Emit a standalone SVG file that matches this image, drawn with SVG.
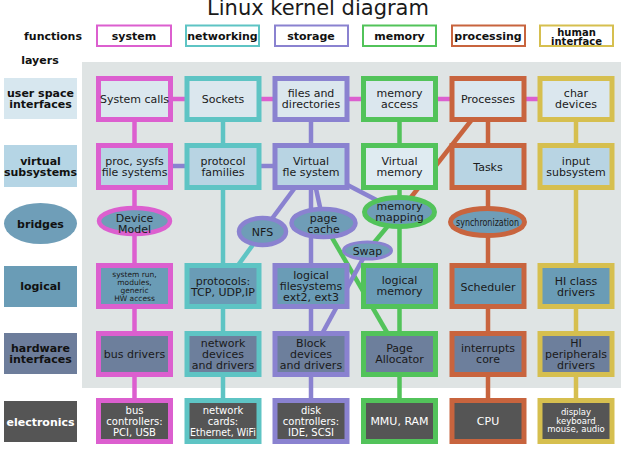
<svg xmlns="http://www.w3.org/2000/svg" width="623" height="450" viewBox="0 0 623 450">
<style>
text{font-family:"DejaVu Sans","Liberation Sans",sans-serif;text-anchor:middle;fill:#1a1a1a}
.t{font-size:11px}
.b{font-weight:bold;font-size:11px;fill:#111}
.w{fill:#fff}
.hdr{fill:#fff;stroke-width:2}
.n{stroke-width:5}
.e{stroke-width:4.5}
.c{fill:none;stroke-width:4.5;stroke-linecap:butt}
.r1{fill:#dbe7ee}.r2{fill:#b8d4e3}.r3{fill:#6f9db7}.r4{fill:#6a9cb6}.r5{fill:#6d7f9c}.r6{fill:#555555}
.sys{stroke:#dc5fcf}.net{stroke:#5ec4c4}.sto{stroke:#8a82d0}.mem{stroke:#52c35a}.pro{stroke:#c8643e}.hi{stroke:#d6bf4f}
</style>
<rect x="0" y="0" width="623" height="450" fill="#fff"/>
<text x="318" y="15" style="font-size:21px">Linux kernel diagram</text>
<rect x="82" y="62" width="539" height="326" fill="#dfe4e4"/>

<g id="legend">
<text class="b" x="53" y="40">functions</text>
<text class="b" x="40" y="64">layers</text>
<rect class="hdr sys" x="97" y="25.5" width="74" height="20.5"/><text class="b" x="134" y="39.5">system</text>
<rect class="hdr net" x="186" y="25.5" width="73" height="20.5"/><text class="b" x="222.5" y="39.5">networking</text>
<rect class="hdr sto" x="275" y="25.5" width="73" height="20.5"/><text class="b" x="311" y="39.5">storage</text>
<rect class="hdr mem" x="363" y="25.5" width="73" height="20.5"/><text class="b" x="399.5" y="39.5">memory</text>
<rect class="hdr pro" x="452" y="25.5" width="73" height="20.5"/><text class="b" x="488" y="39.5">processing</text>
<rect class="hdr hi" x="540" y="25.5" width="73" height="20.5"/><text class="b" x="576.5" y="35.5" style="font-size:10px">human</text><text class="b" x="576.5" y="44.5" style="font-size:10px">interface</text>
</g>

<g id="layers">
<rect x="4" y="78" width="73" height="41" fill="#d7e7ef"/><text class="b" x="40.5" y="97">user space</text><text class="b" x="40.5" y="108">interfaces</text>
<rect x="4" y="145" width="73" height="42" fill="#b5d5e5"/><text class="b" x="40.5" y="165">virtual</text><text class="b" x="40.5" y="176">subsystems</text>
<ellipse cx="40.5" cy="223.5" rx="36.5" ry="20.5" fill="#6f9eb8"/><text class="b" x="40.5" y="227.5">bridges</text>
<rect x="4" y="266" width="73" height="41" fill="#6a9cb6"/><text class="b" x="40.5" y="290">logical</text>
<rect x="4" y="333" width="73" height="41" fill="#6d7d9b"/><text class="b" x="40.5" y="352">hardware</text><text class="b" x="40.5" y="363">interfaces</text>
<rect x="4" y="401" width="73" height="41" fill="#555555"/><text class="b w" x="40.5" y="426">electronics</text>
</g>

<g id="connectors">
<line class="c sys" x1="134.5" y1="120" x2="134.5" y2="402"/>
<line class="c net" x1="223" y1="120" x2="223" y2="402"/>
<line class="c sto" x1="311" y1="120" x2="311" y2="402"/>
<line class="c mem" x1="399.5" y1="120" x2="399.5" y2="402"/>
<line class="c pro" x1="488" y1="120" x2="488" y2="402"/>
<line class="c hi" x1="576" y1="120" x2="576" y2="402"/>
<line class="c sys" x1="134.5" y1="99" x2="576" y2="99"/>
<line class="c sto" x1="134.5" y1="166" x2="311" y2="166"/>
<line class="c sto" x1="311" y1="166" x2="262.5" y2="231.5"/>
<line class="c net" x1="262.5" y1="231.5" x2="223" y2="286"/>
<line class="c sto" x1="311" y1="166" x2="399.5" y2="212"/>
<line class="c sto" x1="311" y1="166" x2="323.5" y2="223"/>
<line class="c mem" x1="323.5" y1="223" x2="399.5" y2="354"/>
<line class="c mem" x1="399.5" y1="212" x2="367.5" y2="250.5"/>
<line class="c sto" x1="367.5" y1="250.5" x2="311" y2="354"/>
<line class="c pro" x1="488" y1="99" x2="399.5" y2="212"/>
</g>

<g id="system-calls"><rect class="n sys r1" x="98.5" y="78.5" width="72" height="41"/><text class="t" x="134.5" y="103">System calls</text></g>
<g id="sockets"><rect class="n net r1" x="187" y="78.5" width="72" height="41"/><text class="t" x="223" y="103">Sockets</text></g>
<g id="files-directories"><rect class="n sto r1" x="275" y="78.5" width="72" height="41"/><text class="t" x="311" y="97">files and</text><text class="t" x="311" y="108">directories</text></g>
<g id="memory-access"><rect class="n mem r1" x="363.5" y="78.5" width="72" height="41"/><text class="t" x="399.5" y="97">memory</text><text class="t" x="399.5" y="108">access</text></g>
<g id="processes"><rect class="n pro r1" x="452" y="78.5" width="72" height="41"/><text class="t" x="488" y="103">Processes</text></g>
<g id="char-devices"><rect class="n hi r1" x="540" y="78.5" width="72" height="41"/><text class="t" x="576" y="97">char</text><text class="t" x="576" y="108">devices</text></g>

<g id="proc-sysfs"><rect class="n sys r2" x="98.5" y="145.5" width="72" height="42"/><text class="t" x="134.5" y="165">proc, sysfs</text><text class="t" x="134.5" y="176">file systems</text></g>
<g id="protocol-families"><rect class="n net r2" x="187" y="145.5" width="72" height="42"/><text class="t" x="223" y="165">protocol</text><text class="t" x="223" y="176">families</text></g>
<g id="virtual-fs"><rect class="n sto r2" x="275" y="145.5" width="72" height="42"/><text class="t" x="311" y="165">Virtual</text><text class="t" x="311" y="176">fle system</text></g>
<g id="virtual-memory"><rect class="n mem" fill="#dfebf1" x="363.5" y="145.5" width="72" height="42"/><text class="t" x="399.5" y="165">Virtual</text><text class="t" x="399.5" y="176">memory</text></g>
<g id="tasks"><rect class="n pro r2" x="452" y="145.5" width="72" height="42"/><text class="t" x="488" y="171">Tasks</text></g>
<g id="input-subsystem"><rect class="n hi r2" x="540" y="145.5" width="72" height="42"/><text class="t" x="576" y="165">input</text><text class="t" x="576" y="176">subsystem</text></g>

<g id="device-model"><ellipse class="e sys r3" cx="134.5" cy="221" rx="35.5" ry="13"/><text class="t" x="134.5" y="222">Device</text><text class="t" x="134.5" y="233">Model</text></g>
<g id="nfs"><ellipse class="e sto r3" cx="262.5" cy="231.5" rx="23.5" ry="13.5"/><text class="t" x="262.5" y="236">NFS</text></g>
<g id="page-cache"><ellipse class="e sto r3" cx="323.5" cy="223" rx="32" ry="14"/><text class="t" x="323.5" y="222">page</text><text class="t" x="323.5" y="233">cache</text></g>
<g id="memory-mapping"><ellipse class="n mem r3" cx="399.5" cy="212" rx="35" ry="14.5"/><text class="t" x="399.5" y="210">memory</text><text class="t" x="399.5" y="221">mapping</text></g>
<g id="swap"><ellipse cx="367.5" cy="250.5" rx="24" ry="8.5" class="r3" stroke="#8a82d0" stroke-width="3"/><text class="t" x="367.5" y="254.5">Swap</text></g>
<g id="synchronization"><ellipse class="n pro r3" cx="487.5" cy="222" rx="37" ry="13.5"/><text class="t" x="487.5" y="226" style="font-size:10px" textLength="63" lengthAdjust="spacingAndGlyphs">synchronization</text></g>

<g id="system-run"><rect class="n sys r4" x="98.5" y="265.5" width="72" height="41"/><text x="134.5" y="277" style="font-size:7.5px">system run,</text><text x="134.5" y="285" style="font-size:7.5px">modules,</text><text x="134.5" y="293" style="font-size:7.5px">generic</text><text x="134.5" y="301" style="font-size:7.5px">HW access</text></g>
<g id="protocols"><rect class="n net r4" x="187" y="265.5" width="72" height="41"/><text class="t" x="223" y="285">protocols:</text><text class="t" x="223" y="296">TCP, UDP,IP</text></g>
<g id="logical-filesystems"><rect class="n sto r4" x="275" y="265.5" width="72" height="41"/><text class="t" x="311" y="279">logical</text><text class="t" x="311" y="290">filesystems</text><text class="t" x="311" y="301">ext2, ext3</text></g>
<g id="logical-memory"><rect class="n mem r4" x="363.5" y="265.5" width="72" height="41"/><text class="t" x="399.5" y="284">logical</text><text class="t" x="399.5" y="295">memory</text></g>
<g id="scheduler"><rect class="n pro r4" x="452" y="265.5" width="72" height="41"/><text class="t" x="488" y="291">Scheduler</text></g>
<g id="hi-class-drivers"><rect class="n hi r4" x="540" y="265.5" width="72" height="41"/><text class="t" x="576" y="285">HI class</text><text class="t" x="576" y="296">drivers</text></g>

<g id="bus-drivers"><rect class="n sys r5" x="98.5" y="333.5" width="72" height="41"/><text class="t" x="134.5" y="358">bus drivers</text></g>
<g id="network-devices"><rect class="n net r5" x="187" y="333.5" width="72" height="41"/><text class="t" x="223" y="347">network</text><text class="t" x="223" y="358">devices</text><text class="t" x="223" y="369">and drivers</text></g>
<g id="block-devices"><rect class="n sto r5" x="275" y="333.5" width="72" height="41"/><text class="t" x="311" y="347">Block</text><text class="t" x="311" y="358">devices</text><text class="t" x="311" y="369">and drivers</text></g>
<g id="page-allocator"><rect class="n mem r5" x="363.5" y="333.5" width="72" height="41"/><text class="t" x="399.5" y="352">Page</text><text class="t" x="399.5" y="363">Allocator</text></g>
<g id="interrupts-core"><rect class="n pro r5" x="452" y="333.5" width="72" height="41"/><text class="t" x="488" y="352">interrupts</text><text class="t" x="488" y="363">core</text></g>
<g id="hi-peripherals"><rect class="n hi r5" x="540" y="333.5" width="72" height="41"/><text class="t" x="576" y="347">HI</text><text class="t" x="576" y="358">peripherals</text><text class="t" x="576" y="369">drivers</text></g>

<g id="bus-controllers"><rect class="n sys r6" x="98.5" y="400.5" width="72" height="41"/><text class="w" x="134.5" y="414" style="font-size:10px">bus</text><text class="w" x="134.5" y="425" style="font-size:10px">controllers:</text><text class="w" x="134.5" y="436" style="font-size:10px">PCI, USB</text></g>
<g id="network-cards"><rect class="n net r6" x="187" y="400.5" width="72" height="41"/><text class="w" x="223" y="414" style="font-size:10px">network</text><text class="w" x="223" y="425" style="font-size:10px">cards:</text><text class="w" x="223" y="436" style="font-size:10px" textLength="66" lengthAdjust="spacingAndGlyphs">Ethernet, WiFi</text></g>
<g id="disk-controllers"><rect class="n sto r6" x="275" y="400.5" width="72" height="41"/><text class="w" x="311" y="414" style="font-size:10px">disk</text><text class="w" x="311" y="425" style="font-size:10px">controllers:</text><text class="w" x="311" y="436" style="font-size:10px">IDE, SCSI</text></g>
<g id="mmu-ram"><rect class="n mem r6" x="363.5" y="400.5" width="72" height="41"/><text class="t w" x="399.5" y="425">MMU, RAM</text></g>
<g id="cpu"><rect class="n pro r6" x="452" y="400.5" width="72" height="41"/><text class="t w" x="488" y="425">CPU</text></g>
<g id="display"><rect class="n hi r6" x="540" y="400.5" width="72" height="41"/><text class="w" x="576" y="415" style="font-size:8.5px">display</text><text class="w" x="576" y="423.5" style="font-size:8.5px">keyboard</text><text class="w" x="576" y="432" style="font-size:8.5px">mouse, audio</text></g>
</svg>
